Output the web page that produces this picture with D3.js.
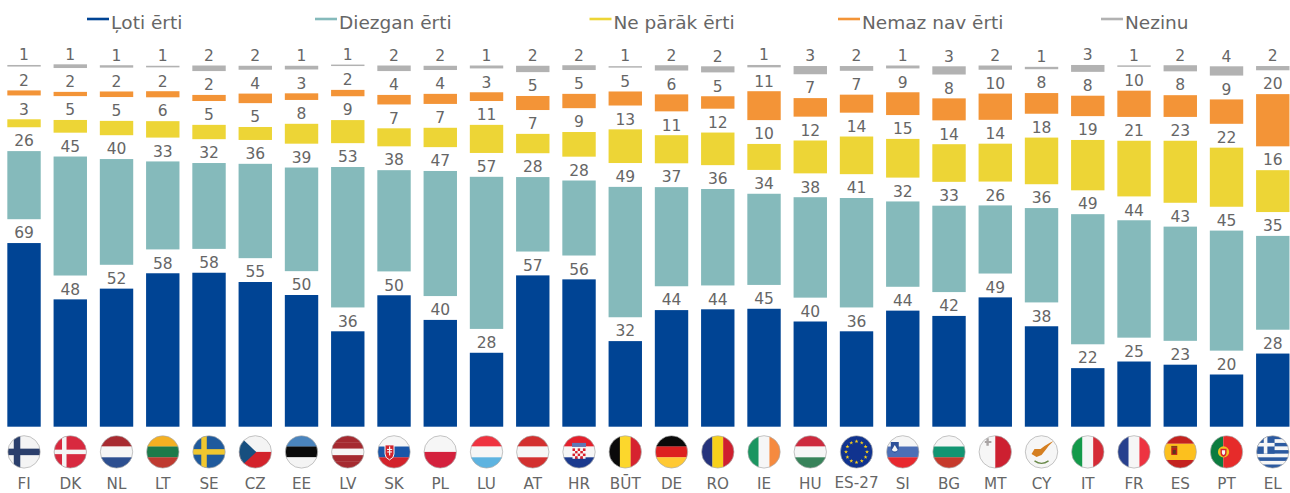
<!DOCTYPE html>
<html><head><meta charset="utf-8">
<script src="https://cdn.jsdelivr.net/npm/d3@7/dist/d3.min.js"></script>
<style>html,body{margin:0;padding:0;background:#fff;overflow:hidden}svg{display:block}text{font-family:"DejaVu Sans",Verdana,sans-serif;fill:#666}</style>
</head><body><svg id="c" width="1290" height="493"></svg>
<script>
const categories=["FI","DK","NL","LT","SE","CZ","EE","LV","SK","PL","LU","AT","HR","BŪT","DE","RO","IE","HU","ES-27","SI","BG","MT","CY","IT","FR","ES","PT","EL"];
const legendLabels=["Ļoti ērti","Diezgan ērti","Ne pārāk ērti","Nemaz nav ērti","Nezinu"];
const veryEasy=[69.3,48.05,52.1,57.9,58.1,54.6,49.7,36.0,49.6,40.3,27.9,57.1,55.6,32.3,44.0,44.3,44.5,39.7,36.0,43.8,41.8,48.8,37.9,22.1,24.6,23.4,19.7,27.6];
const fairlyEasy=[25.7,44.9,39.9,33.2,32.4,35.6,39.1,53.0,38.2,47.2,57.4,28.1,28.3,49.2,37.4,36.4,34.4,37.9,41.3,32.2,32.6,25.7,35.6,49.1,44.3,43.1,45.3,35.4];
const notVeryEasy=[3.0,4.8,5.4,6.2,5.4,4.9,7.5,8.7,6.8,7.3,10.6,7.3,9.3,12.7,10.6,12.3,9.8,12.4,14.2,14.6,14.2,14.3,17.6,19.0,21.0,23.4,22.3,15.8];
const notAtAllEasy=[1.9,1.6,2.1,2.3,2.3,3.6,2.5,2.4,3.6,3.8,3.3,5.3,5.4,5.3,6.4,4.7,10.9,7.0,6.8,8.6,8.3,9.9,7.8,7.7,9.9,8.2,9.2,19.7];
const dontKnow=[0.6,1.4,0.9,0.6,2.1,1.5,1.4,0.55,2.1,1.6,1.1,2.4,1.8,0.55,2.0,2.3,0.9,3.1,1.8,1.1,3.1,1.6,0.9,2.6,0.55,2.3,3.5,1.6];
const spacerValue=9;
const seriesColors=["#004494","#85BABB","#EDD536","#F39437","#B2B2B2"];

const svg=d3.select("#c");
const x=d3.scaleBand().domain(categories).range([0.9,1295.9]).paddingInner(0.278).paddingOuter(0.139);
const y=d3.scaleLinear().domain([0,100]).range([426.7,161.7]);
const seriesValues=[veryEasy,fairlyEasy,notVeryEasy,notAtAllEasy,dontKnow];
const keys=["s0","g0","s1","g1","s2","g2","s3","g3","s4"];
const rows=categories.map((c,i)=>{const r={cat:c};seriesValues.forEach((v,j)=>{r["s"+j]=v[i];if(j<4)r["g"+j]=spacerValue;});return r;});
const stacked=d3.stack().keys(keys)(rows).filter(s=>s.key[0]==="s");

stacked.forEach((s,j)=>{
  const g=svg.append("g");
  g.selectAll("rect").data(s).join("rect")
    .attr("x",d=>x(d.data.cat)).attr("width",x.bandwidth())
    .attr("y",d=>y(d[1])).attr("height",d=>y(d[0])-y(d[1]))
    .attr("fill",seriesColors[j]);
  g.selectAll("text").data(s).join("text")
    .attr("x",d=>x(d.data.cat)+x.bandwidth()/2).attr("y",d=>y(d[1])-4.7)
    .attr("text-anchor","middle").attr("font-size",15.5)
    .text(d=>Math.round(d[1]-d[0]));
});

// legend
const legendX=[87,315,589.5,838,1101];
const leg=svg.append("g").selectAll("g").data(legendLabels).join("g").attr("transform",(d,i)=>`translate(${legendX[i]},0)`);
leg.append("line").attr("x1",0).attr("x2",22).attr("y1",19).attr("y2",19).attr("stroke",(d,i)=>seriesColors[i]).attr("stroke-width",2.6);
leg.append("text").attr("x",24).attr("y",29).attr("font-size",18.5).text(d=>d);

// category labels
svg.append("g").selectAll("text").data(categories).join("text")
  .attr("x",d=>x(d)+x.bandwidth()/2).attr("y",d=>d==="ES-27"?487.5:489.2)
  .attr("text-anchor","middle").attr("font-size",15.2).text(d=>d);

// flags
const flagDefs={
 FI:{bg:"#f4f4f4",cross:["#2b3f6c",-7,6.5]},
 DK:{bg:"#d8293f",cross:["#f4f4f4",-6,4.5]},
 NL:{h:["#a82a30","#f6f6f6","#2d4f90"]},
 LT:{h:["#f4b022","#1d7a4a","#bf3a30"]},
 SE:{bg:"#1f5a9d",cross:["#f0c72f",-5,5.5]},
 CZ:{h:["#f4f4f4","#d3222b"]},
 EE:{h:["#4a84bd","#0a0a0a","#f4f4f4"]},
 LV:{h:["#a52a30","#a52a30","#f6f6f6","#a52a30","#a52a30"]},
 SK:{h:["#f6f6f6","#1a56a8","#d3222b"]},
 PL:{h:["#f6f6f6","#d4213d"]},
 LU:{h:["#ef3340","#f6f6f6","#5db3e0"]},
 AT:{h:["#d3302f","#f6f6f6","#d3302f"]},
 HR:{h:["#e4202c","#f6f6f6","#1b3a8e"]},
 "BŪT":{v:["#0a0a0a","#fcd72c","#d6232f"]},
 DE:{h:["#0a0a0a","#dd2020","#ffc933"]},
 RO:{v:["#25337c","#f7d11b","#cf1f2e"]},
 IE:{v:["#1a9560","#f6f6f6","#f58a3f"]},
 HU:{h:["#cd2a3e","#f6f6f6","#38835a"]},
 "ES-27":{bg:"#10338f"},
 SI:{h:["#f6f6f6","#4c6fb6","#e8282e"]},
 BG:{h:["#f6f6f6","#129572","#c63a2c"]},
 MT:{v:["#f6f6f6","#cd2030"]},
 CY:{bg:"#f6f6f6"},
 IT:{v:["#139a4a","#f6f6f6","#d52b36"]},
 FR:{v:["#27408e","#f6f6f6","#ed3341"]},
 ES:{hw:[["#c4221f",1],["#fcc01e",2],["#c4221f",1]]},
 PT:{v2:[["#0c7c3f",0.4],["#e62b2a",0.6]]},
 EL:{h:["#2c5aa0","#f6f6f6","#2c5aa0","#f6f6f6","#2c5aa0","#f6f6f6","#2c5aa0","#f6f6f6","#2c5aa0"]}
};
const R=16.2, cy=451.9;
const defs=svg.append("defs");
defs.append("clipPath").attr("id","flagClip").append("circle").attr("r",R);
const star=d3.symbol().type(d3.symbolStar).size(5);
const flags=svg.append("g").selectAll("g").data(categories).join("g")
  .attr("transform",d=>`translate(${x(d)+x.bandwidth()/2},${cy})`);
flags.each(function(c){
  const f=flagDefs[c], g=d3.select(this).append("g").attr("clip-path","url(#flagClip)");
  const rect=(x0,y0,w,h,fill)=>g.append("rect").attr("x",x0).attr("y",y0).attr("width",w).attr("height",h).attr("fill",fill);
  if(f.bg) rect(-R,-R,2*R,2*R,f.bg);
  if(f.h){const n=f.h.length,b=d3.scaleBand().domain(d3.range(n)).range([-R,R]);f.h.forEach((col,i)=>rect(-R,b(i),2*R,b.bandwidth()+.2,col));}
  if(f.v){const n=f.v.length,b=d3.scaleBand().domain(d3.range(n)).range([-R,R]);f.v.forEach((col,i)=>rect(b(i),-R,b.bandwidth()+.2,2*R,col));}
  if(f.hw){let t=-R;const tot=d3.sum(f.hw,d=>d[1]);f.hw.forEach(([col,w])=>{const h=2*R*w/tot;rect(-R,t,2*R,h,col);t+=h;});}
  if(f.v2){let t=-R;f.v2.forEach(([col,w])=>{rect(t,-R,2*R*w,2*R,col);t+=2*R*w;});}
  if(f.cross){const [col,ox,w]=f.cross;rect(-R,-w/2,2*R,w,col);rect(ox-w/2,-R,w,2*R,col);}
  if(c==="CZ") g.append("path").attr("d",`M${-R},${-R}L1,0L${-R},${R}Z`).attr("fill","#174f7f");
  if(c==="SK"){g.append("path").attr("d","M-9,-7L0,-7L0,2Q0,6 -4.5,8Q-9,6 -9,2Z").attr("fill","#d3222b").attr("stroke","#f6f6f6").attr("stroke-width",1);
    rect(-5,-5.5,1.2,9,"#f6f6f6");rect(-7,-3,5.2,1.1,"#f6f6f6");rect(-6.8,-.5,4.8,1.1,"#f6f6f6");}
  if(c==="HR"){const s=2.6;for(let i=0;i<4;i++)for(let j=0;j<5;j++)rect(-6.5+j*s,-3.5+i*s,s,s,(i+j)%2?"#f6f6f6":"#d8202c");
    rect(-7,-9,14,4,"#5d78b5");}
  if(c==="ES-27"){for(let i=0;i<12;i++){const a=i*Math.PI/6;g.append("path").attr("d",star()).attr("transform",`translate(${10.5*Math.sin(a)},${-10.5*Math.cos(a)})`).attr("fill","#fcd116");}}
  if(c==="SI"){g.append("path").attr("d","M-12,-10L-4,-10L-4,-4Q-4,-1 -8,1Q-12,-1 -12,-4Z").attr("fill","#2d4f98");g.append("path").attr("d","M-11,-2L-8,-7L-5,-2Q-8,1 -11,-2Z").attr("fill","#f6f6f6");}
  if(c==="MT"){g.append("path").attr("d","M-10.5,-11h1.6v-2.6h2.4v2.6h2.6v2.2h-2.6v2.6h-2.4v-2.6h-1.6z").attr("fill","#a9a4a4");}
  if(c==="CY"){g.append("path").attr("d","M-10,2L-7,-3L-1,-3L3,-6L8,-9L12,-11L7,-6L4,-2L0,3L-5,5Z").attr("fill","#d57f21");
    g.append("path").attr("d","M-7,9Q0,14 7,9").attr("fill","none").attr("stroke","#6a8a4a").attr("stroke-width",1.4);}
  if(c==="ES"){rect(-9,-4,6,7,"#b9201c");rect(-7.5,-2,3,4,"#5a3a1a");rect(-9,-6,6,2,"#8a3a1a");}
  if(c==="PT"){g.append("circle").attr("cx",-3).attr("r",5.6).attr("fill","#f2c31f");
    g.append("path").attr("d","M-6,-3.2h6v4q0,3 -3,4q-3,-1 -3,-4z").attr("fill","#d8202c");
    g.append("path").attr("d","M-4.6,-1.6h3.2v2.6q0,1.6 -1.6,2.2q-1.6,-.6 -1.6,-2.2z").attr("fill","#f6f6f6");}
  if(c==="EL"){const u=2*R/9;rect(-R,-R,5*u,5*u,"#2c5aa0");rect(-R,-R+2*u,5*u,u,"#f6f6f6");rect(-R+2*u,-R,u,5*u,"#f6f6f6");}
  d3.select(this).append("circle").attr("r",R).attr("fill","none").attr("stroke","#aaaaaa").attr("stroke-width",.7);
});
</script></body></html>
